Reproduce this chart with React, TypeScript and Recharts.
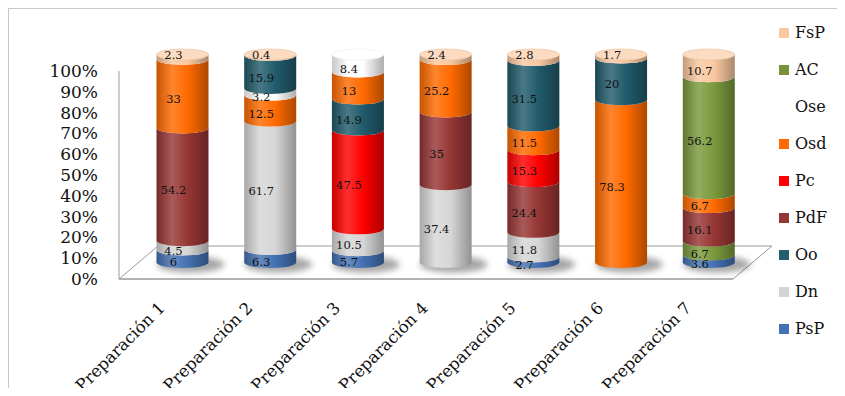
import React from 'react';
import { BarChart, Bar, XAxis, YAxis, Legend, LabelList } from 'recharts';

// ---------- data ----------
const categories = [
  'Preparación 1',
  'Preparación 2',
  'Preparación 3',
  'Preparación 4',
  'Preparación 5',
  'Preparación 6',
  'Preparación 7',
];

// stack order, bottom to top
const PsP = [6, 6.3, 5.7, 0, 2.7, 0, 3.6];
const Dn = [4.5, 61.7, 10.5, 37.4, 11.8, 0, 0];
const ACb = [0, 0, 0, 0, 0, 0, 6.7];
const PdF = [54.2, 0, 0, 35, 24.4, 0, 16.1];
const Pc = [0, 0, 47.5, 0, 15.3, 0, 0];
const Oo = [0, 0, 14.9, 0, 0, 0, 0];
const Osd = [33, 12.5, 13, 25.2, 11.5, 78.3, 6.7];
const Ose = [0, 3.2, 8.4, 0, 0, 0, 0];
const OoT = [0, 15.9, 0, 0, 31.5, 20, 0];
const AC = [0, 0, 0, 0, 0, 0, 56.2];
const FsP = [2.3, 0.4, 0, 2.4, 2.8, 1.7, 10.7];

const seriesKeys = ['PsP', 'Dn', 'ACb', 'PdF', 'Pc', 'Oo', 'Osd', 'Ose', 'OoT', 'AC', 'FsP'];
const seriesArrays = [PsP, Dn, ACb, PdF, Pc, Oo, Osd, Ose, OoT, AC, FsP];
const seriesColors = [
  '#4471B2', '#D6D6D6', '#7A9A3C', '#963634', '#FF0000', '#215B6B',
  '#FF6A00', '#FFFFFF', '#215B6B', '#7A9A3C', '#FAC8A0',
];

const legendLabels = ['FsP', 'AC', 'Ose', 'Osd', 'Pc', 'PdF', 'Oo', 'Dn', 'PsP'];
const legendColors = ['#FAC8A0', '#77933C', '#FFFFFF', '#FF6A00', '#FF0000', '#953735', '#255E6E', '#D4D4D4', '#4471B2'];

const yTicks = [0, 10, 20, 30, 40, 50, 60, 70, 80, 90, 100];

const data = categories.map((name, i) => {
  const row: any = { name };
  seriesKeys.forEach((k, j) => {
    row[k] = seriesArrays[j][i];
  });
  return row;
});

// ---------- layout ----------
const W = 837;
const H = 388;
const PL = 111;
const PR = 725;
const PT = 63;
const PB = 271;
const DEPTH_X = 39;
const DEPTH_Y = 33;
const DX = DEPTH_X / 2;
const DY = -DEPTH_Y / 2;
const RY = 5.5;
const FONT = '"DejaVu Serif", serif';

function hexToRgb(h: string) {
  const v = h.replace('#', '');
  return [parseInt(v.slice(0, 2), 16), parseInt(v.slice(2, 4), 16), parseInt(v.slice(4, 6), 16)];
}
function mix(hex: string, target: string, t: number) {
  const a = hexToRgb(hex);
  const b = hexToRgb(target);
  const c = a.map((x, i) => Math.round(x + (b[i] - x) * t));
  return `rgb(${c[0]},${c[1]},${c[2]})`;
}

function makeShape(si: number) {
  const color = seriesColors[si];
  return (props: any) => {
    const { x, y, width, height, payload, index } = props;
    if (!height || height <= 0.01) return <g />;
    const isTop = seriesKeys.slice(si + 1).every((k) => !payload[k]);
    const isBottom = seriesKeys.slice(0, si).every((k) => !payload[k]);
    const x0 = x + DX;
    const y0 = y + DY;
    const w = width;
    const h = height;
    const rx = w / 2;
    const gid = `grad-${si}-${index}`;
    const fid = `blur-${si}-${index}`;
    const d = `M${x0},${y0} A${rx},${RY} 0 0 0 ${x0 + w},${y0} L${x0 + w},${y0 + h} A${rx},${RY} 0 0 1 ${x0},${y0 + h} Z`;
    return (
      <g>
        <defs>
          <linearGradient id={gid} x1="0" y1="0" x2="1" y2="0">
            <stop offset="0" stopColor={mix(color, '#000000', 0.22)} />
            <stop offset="0.3" stopColor={mix(color, '#FFFFFF', 0.18)} />
            <stop offset="0.6" stopColor={color} />
            <stop offset="1" stopColor={mix(color, '#000000', 0.32)} />
          </linearGradient>
          <filter id={fid} x="-50%" y="-100%" width="200%" height="300%">
            <feGaussianBlur stdDeviation="3" />
          </filter>
        </defs>
        {isBottom && (
          <ellipse
            cx={x0 + w / 2 + 8}
            cy={y0 + h + 2}
            rx={w / 2 + 8}
            ry={8}
            fill="#000"
            opacity={0.35}
            filter={`url(#${fid})`}
          />
        )}
        <path d={d} fill={`url(#${gid})`} />
        {isTop && (
          <ellipse
            cx={x0 + w / 2}
            cy={y0}
            rx={rx}
            ry={RY}
            fill={mix(color, '#FFFFFF', 0.35)}
            stroke={mix(color, '#000000', 0.1)}
            strokeWidth={0.5}
          />
        )}
      </g>
    );
  };
}

function makeLabel(si: number) {
  return (props: any) => {
    const { x, y, width, height, value, index } = props;
    if (!value) return null;
    const row = data[index];
    const isTop = seriesKeys.slice(si + 1).every((k) => !row[k]);
    const cx = x + width / 2 + DX - 9;
    let cy = y + height / 2 + DY + RY;
    if (isTop && height < 12) cy = y + DY;
    return (
      <text
        x={cx}
        y={cy}
        dy="0.36em"
        textAnchor="middle"
        fontFamily={FONT}
        fontSize={11.5}
        fill="#111"
      >
        {value}
      </text>
    );
  };
}

const CatTick = (props: any) => {
  const { x, payload } = props;
  const ax = x + 3;
  const ay = PB + 30;
  return (
    <text
      x={ax}
      y={ay}
      transform={`rotate(-45, ${ax}, ${ay})`}
      textAnchor="end"
      fontFamily={FONT}
      fontSize={16.5}
      fill="#111"
    >
      {payload.value}
    </text>
  );
};

const renderLegend = () => (
  <div style={{ fontFamily: FONT, fontSize: 16, color: '#111' }}>
    {legendLabels.map((l, i) => (
      <div key={l} style={{ display: 'flex', alignItems: 'center', height: 37 }}>
        <span
          style={{
            display: 'inline-block',
            width: 10,
            height: 10,
            background: legendColors[i],
            marginRight: 6,
          }}
        />
        <span>{l}</span>
      </div>
    ))}
  </div>
);

export default function App() {
  return (
    <div style={{ position: 'relative', width: W, height: H, overflow: 'hidden', marginBottom: -8 }}>
      <div
        style={{
          position: 'absolute',
          left: 0,
          top: 0,
          width: 834,
          height: 420,
          border: '1px solid #c8c8c8',
          boxSizing: 'content-box',
        }}
      />
      <BarChart
        width={W}
        height={H}
        data={data}
        margin={{ top: PT, right: W - PR, bottom: 17, left: 0 }}
        barSize={52}
        style={{ position: 'absolute', left: 0, top: 0 }}
      >
        <polygon
          points={`${PL},${PB} ${PR},${PB} ${PR + DEPTH_X},${PB - DEPTH_Y} ${PL + DEPTH_X},${PB - DEPTH_Y}`}
          fill="#ffffff"
          stroke="#9a9a9a"
          strokeWidth={1}
        />
        <XAxis
          dataKey="name"
          height={100}
          tickLine={false}
          axisLine={{ stroke: '#9a9a9a' }}
          tick={<CatTick />}
          interval={0}
        />
        <YAxis
          type="number"
          domain={[0, 100]}
          ticks={yTicks}
          interval={0}
          width={PL}
          tickLine={false}
          tickSize={6}
          tickMargin={15}
          axisLine={{ stroke: '#9a9a9a' }}
          tickFormatter={(v: number) => `${v}%`}
          tick={{ fontFamily: FONT, fontSize: 17, fill: '#111' }}
        />
        <Legend
          layout="vertical"
          align="center"
          verticalAlign="middle"
          content={renderLegend}
          wrapperStyle={{ left: 771, top: 6, width: 70 }}
        />
        {seriesKeys.map((k, si) => (
          <Bar
            key={k}
            dataKey={k}
            stackId="a"
            fill={seriesColors[si]}
            isAnimationActive={false}
            shape={makeShape(si)}
            legendType="none"
          >
            <LabelList dataKey={k} content={makeLabel(si)} />
          </Bar>
        ))}
      </BarChart>
    </div>
  );
}
